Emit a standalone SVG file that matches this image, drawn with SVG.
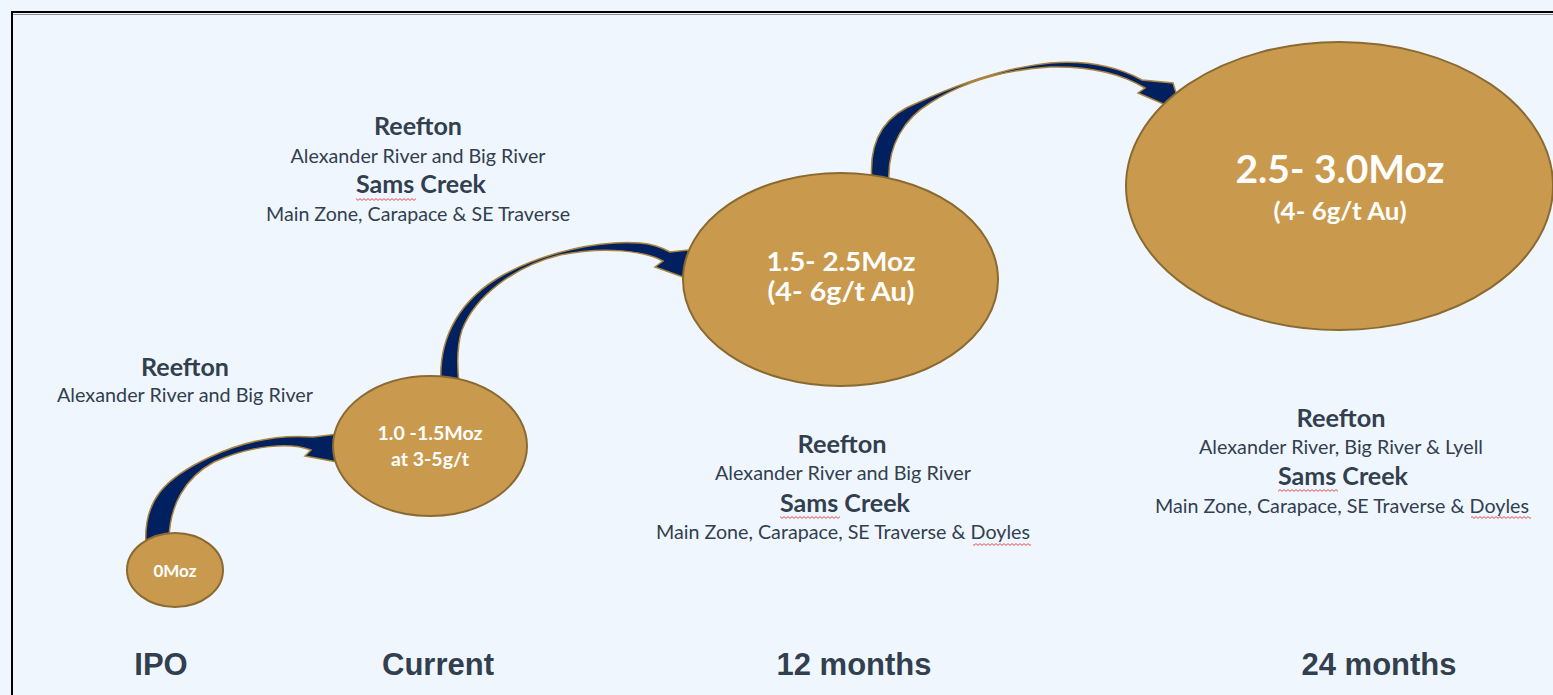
<svg xmlns="http://www.w3.org/2000/svg" width="1553" height="695" viewBox="0 0 1553 695">
  <style>
    .node ellipse { fill: #C99A4D; stroke: #8A6A30; stroke-width: 2; }
    .ntext { fill: #FFFFFF; font-family: Lato, "Liberation Sans", sans-serif; font-weight: bold; text-anchor: middle; }
    .lbl { fill: #323F4F; font-family: Lato, "Liberation Sans", sans-serif; text-anchor: middle; }
    .h { font-weight: bold; font-size: 24px; }
    .s { font-weight: normal; font-size: 20px; }
    .axis { fill: #323F4F; font-family: "Liberation Sans", Arial, sans-serif; font-weight: bold; font-size: 31px; text-anchor: middle; }
    .arrow { fill: #002060; stroke: #A8843F; stroke-width: 1.5; stroke-linejoin: miter; }
    .wave { fill: url(#wave); }
  </style>
  <defs>
    <pattern id="wave" x="0" y="0" width="4" height="3" patternUnits="userSpaceOnUse">
      <path d="M0,0.6 L2,2.4 L4,0.6" fill="none" stroke="#E23B3B" stroke-width="0.9"/>
    </pattern>
  </defs>

  <rect x="0" y="0" width="1553" height="695" fill="#F0F6FE"/>
  <rect x="12" y="12" width="1560" height="700" fill="none" stroke="#000000" stroke-width="2"/>
  <line x1="13" y1="14.5" x2="1553" y2="14.5" stroke="#8A8F96" stroke-width="1"/>

  <g id="connectors">
    <path class="arrow" d="M146,545 C143,500 165,478 210,457 C240,443 275,434 313,437 L338,434 L348,464 L305,456 L311,450 C290,442 252,445 214,462 C186,477 168,505 169,545 Z"/>
    <path class="arrow" d="M441,384 C438,335 462,298 503,275 C545,252 600,240 640,243 C652,244 663,248 670,252 L688,250 L697,282 L655,267 L663,261 C645,251 605,246 560,255 C515,266 475,296 462,330 C457,345 457,365 459,384 Z"/>
    <path class="arrow" d="M872,182 C868,140 885,115 917,103 C950,88 1000,68 1050,63 C1090,60 1120,68 1142,80 L1173,83 L1182,112 L1138,93 L1145,88 C1122,74 1092,66 1050,67 C1000,70 960,84 930,103 C905,118 887,145 889,182 Z"/>
  </g>

  <g id="node-ipo" class="node">
    <ellipse cx="175" cy="570" rx="48" ry="37"/>
    <text class="ntext" x="175" y="577" font-size="17" textLength="43" lengthAdjust="spacingAndGlyphs">0Moz</text>
  </g>

  <g id="node-current" class="node">
    <ellipse cx="430" cy="446" rx="97" ry="70"/>
    <text class="ntext" x="430" y="440" font-size="19" textLength="105" lengthAdjust="spacingAndGlyphs">1.0 -1.5Moz</text>
    <text class="ntext" x="430" y="466" font-size="19" textLength="78" lengthAdjust="spacingAndGlyphs">at 3-5g/t</text>
  </g>

  <g id="node-12months" class="node">
    <ellipse cx="840.5" cy="279.5" rx="157.5" ry="106.5"/>
    <text class="ntext" x="841" y="271" font-size="27" textLength="149" lengthAdjust="spacingAndGlyphs">1.5- 2.5Moz</text>
    <text class="ntext" x="841" y="301" font-size="27" textLength="147" lengthAdjust="spacingAndGlyphs">(4- 6g/t Au)</text>
  </g>

  <g id="node-24months" class="node">
    <ellipse cx="1339.5" cy="186" rx="213.5" ry="144"/>
    <text class="ntext" x="1340" y="183" font-size="38" textLength="209" lengthAdjust="spacingAndGlyphs">2.5- 3.0Moz</text>
    <text class="ntext" x="1340" y="220" font-size="25" textLength="133" lengthAdjust="spacingAndGlyphs">(4- 6g/t Au)</text>
  </g>

  <g id="label-ipo">
    <text class="lbl h" x="185" y="376" textLength="88" lengthAdjust="spacingAndGlyphs">Reefton</text>
    <text class="lbl s" x="185" y="402" textLength="256" lengthAdjust="spacingAndGlyphs">Alexander River and Big River</text>
  </g>

  <g id="label-current">
    <text class="lbl h" x="418" y="135" textLength="88" lengthAdjust="spacingAndGlyphs">Reefton</text>
    <text class="lbl s" x="418" y="163" textLength="255" lengthAdjust="spacingAndGlyphs">Alexander River and Big River</text>
    <text class="lbl h" x="421" y="193" textLength="130" lengthAdjust="spacingAndGlyphs">Sams Creek</text>
    <rect class="wave" x="356" y="198" width="60" height="3"/>
    <text class="lbl s" x="418" y="221" textLength="304" lengthAdjust="spacingAndGlyphs">Main Zone, Carapace &amp; SE Traverse</text>
  </g>

  <g id="label-12months">
    <text class="lbl h" x="842" y="453" textLength="89" lengthAdjust="spacingAndGlyphs">Reefton</text>
    <text class="lbl s" x="843" y="480" textLength="256" lengthAdjust="spacingAndGlyphs">Alexander River and Big River</text>
    <text class="lbl h" x="845" y="512" textLength="130" lengthAdjust="spacingAndGlyphs">Sams Creek</text>
    <rect class="wave" x="780" y="516" width="60" height="3"/>
    <text class="lbl s" x="843" y="539" textLength="374" lengthAdjust="spacingAndGlyphs">Main Zone, Carapace, SE Traverse &amp; Doyles</text>
    <rect class="wave" x="973" y="543" width="58" height="3"/>
  </g>

  <g id="label-24months">
    <text class="lbl h" x="1341" y="427" textLength="89" lengthAdjust="spacingAndGlyphs">Reefton</text>
    <text class="lbl s" x="1341" y="454" textLength="284" lengthAdjust="spacingAndGlyphs">Alexander River, Big River &amp; Lyell</text>
    <text class="lbl h" x="1343" y="485" textLength="130" lengthAdjust="spacingAndGlyphs">Sams Creek</text>
    <rect class="wave" x="1278" y="489" width="60" height="3"/>
    <text class="lbl s" x="1342" y="513" textLength="374" lengthAdjust="spacingAndGlyphs">Main Zone, Carapace, SE Traverse &amp; Doyles</text>
    <rect class="wave" x="1471" y="516" width="60" height="3"/>
  </g>

  <g id="timeline">
    <text class="axis" x="161" y="675">IPO</text>
    <text class="axis" x="438" y="675">Current</text>
    <text class="axis" x="854" y="675">12 months</text>
    <text class="axis" x="1379" y="675">24 months</text>
  </g>
</svg>
